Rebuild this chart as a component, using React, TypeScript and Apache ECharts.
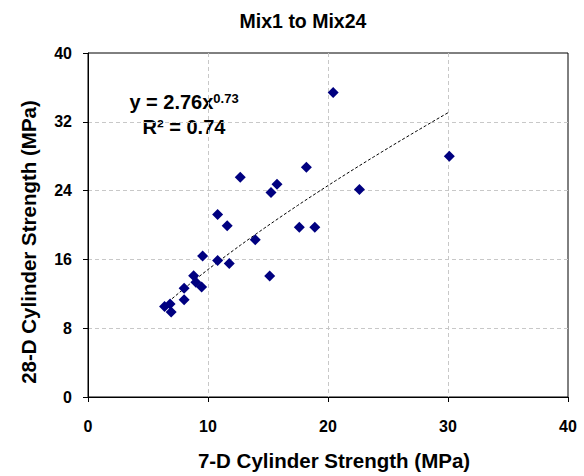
import React, { useEffect, useRef } from "react";
import * as echarts from "echarts";

// 7-day and 28-day cylinder strengths (MPa), Mix1 .. Mix24
const strength7d = [
  6.38, 6.84, 6.93, 8.01, 8.01, 8.8, 8.99, 9.47, 9.55, 10.8, 11.77, 10.8,
  11.6, 12.69, 13.94, 15.14, 15.25, 15.75, 18.2, 17.61, 18.9, 20.43, 22.62, 30.11,
];
const strength28d = [
  10.52, 10.8, 9.88, 12.65, 11.3, 14.1, 13.34, 12.8, 16.4, 15.87, 15.53, 21.21,
  19.91, 25.56, 18.29, 14.06, 23.78, 24.75, 26.71, 19.75, 19.75, 35.42, 24.13, 27.98,
];

// Power trendline y = a * x^b and its goodness of fit
const fitA = 2.76;
const fitB = 0.73;
const fitR2 = 0.74;

const xTicks = [0, 10, 20, 30, 40];
const yTicks = [0, 8, 16, 24, 32, 40];

const FONT = "'Liberation Sans', Arial, sans-serif";

export default function App() {
  const ref = useRef<HTMLDivElement>(null);

  useEffect(() => {
    if (!ref.current) return;
    const chart = echarts.init(ref.current, null, { renderer: "svg" });

    const points = strength7d.map((x, i) => [x, strength28d[i]]);
    const xMin = Math.min(...strength7d);
    const xMax = Math.max(...strength7d);
    const steps = 60;
    const trend: number[][] = [];
    for (let i = 0; i <= steps; i++) {
      const x = xMin + ((xMax - xMin) * i) / steps;
      trend.push([x, fitA * Math.pow(x, fitB)]);
    }

    const axisText = { color: "#000", fontFamily: FONT, fontWeight: "bold" as const, fontSize: 16 };
    const gridLine = { color: "#c8c8c8", type: [4, 3] as number[], width: 1 };

    chart.setOption({
      animation: false,
      backgroundColor: "#fff",
      grid: {
        left: 88,
        right: 16,
        top: 53,
        bottom: 76,
        show: true,
        borderColor: "#000",
        borderWidth: 1,
        backgroundColor: "#fff",
      },
      xAxis: {
        type: "value",
        min: xTicks[0],
        max: xTicks[xTicks.length - 1],
        interval: 10,
        name: "7-D Cylinder Strength (MPa)",
        nameLocation: "middle",
        nameGap: 53,
        nameTextStyle: { ...axisText, fontSize: 20.5, padding: [0, 0, 0, 12] },
        axisLine: { show: true, lineStyle: { color: "#000", width: 1 } },
        axisTick: { show: true, length: 5, lineStyle: { color: "#000" } },
        axisLabel: { ...axisText, margin: 21 },
        splitLine: { show: true, showMinLine: false, showMaxLine: false, lineStyle: gridLine },
      },
      yAxis: {
        type: "value",
        min: yTicks[0],
        max: yTicks[yTicks.length - 1],
        interval: 8,
        axisLine: { show: true, lineStyle: { color: "#000", width: 1 } },
        axisTick: { show: true, length: 5, lineStyle: { color: "#000" } },
        axisLabel: { ...axisText, margin: 16 },
        splitLine: { show: true, showMinLine: false, showMaxLine: false, lineStyle: gridLine },
      },
      series: [
        {
          type: "line",
          data: trend,
          showSymbol: false,
          symbol: "none",
          lineStyle: { color: "#000", width: 1, type: [3, 2] },
          z: 2,
        },
        {
          type: "scatter",
          data: points,
          symbol: "diamond",
          symbolSize: 11,
          itemStyle: { color: "#000080", opacity: 1 },
          z: 3,
        },
      ],
      graphic: [
        {
          type: "text",
          x: 303,
          y: 21,
          style: {
            text: "Mix1 to Mix24",
            fontFamily: FONT,
            fontWeight: "bold",
            fontSize: 19.5,
            fill: "#000",
            align: "center",
            verticalAlign: "middle",
          },
        },
        {
          type: "text",
          x: 28,
          y: 242,
          rotation: Math.PI / 2,
          style: {
            text: "28-D Cylinder Strength (MPa)",
            fontFamily: FONT,
            fontWeight: "bold",
            fontSize: 20.5,
            fill: "#000",
            align: "center",
            verticalAlign: "middle",
          },
        },
        {
          type: "text",
          x: 184,
          y: 102,
          style: {
            text: `{b|y = ${fitA}x}{s|${fitB}}`,
            align: "center",
            verticalAlign: "middle",
            rich: {
              b: { fontFamily: FONT, fontWeight: "bold", fontSize: 20, fill: "#000", color: "#000" },
              s: {
                fontFamily: FONT,
                fontWeight: "bold",
                fontSize: 13,
                fill: "#000",
                color: "#000",
                verticalAlign: "top",
                padding: [0, 0, 8, 0],
              },
            },
          },
        },
        {
          type: "text",
          x: 184,
          y: 127,
          style: {
            text: `R² = ${fitR2}`,
            fontFamily: FONT,
            fontWeight: "bold",
            fontSize: 20,
            fill: "#000",
            align: "center",
            verticalAlign: "middle",
          },
        },
      ],
    });

    return () => chart.dispose();
  }, []);

  return (
    <div
      ref={ref}
      style={{ position: "fixed", left: 0, top: 0, width: 584, height: 476 }}
    />
  );
}
